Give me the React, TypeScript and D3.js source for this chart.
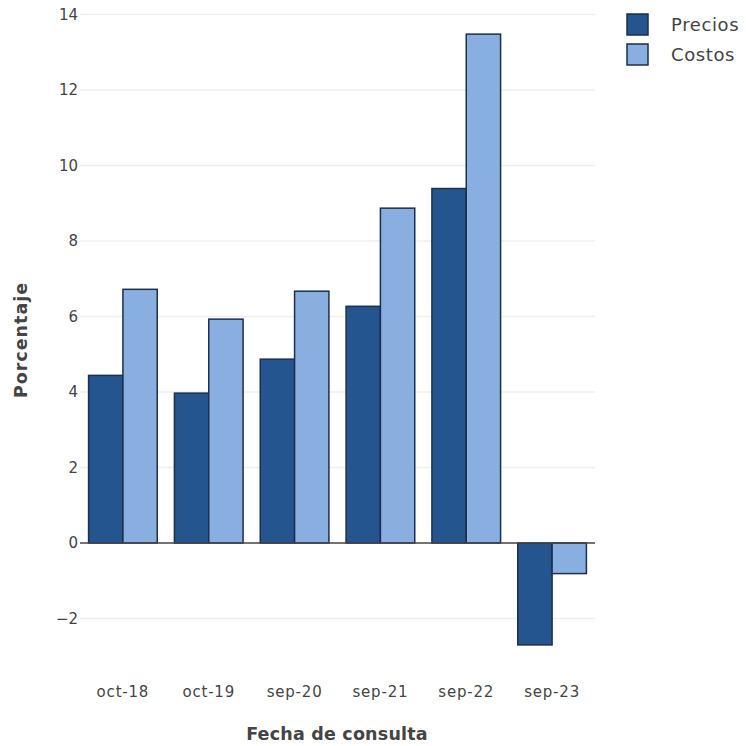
import React from "react";
import * as d3 from "d3";

const categories = ["oct-18", "oct-19", "sep-20", "sep-21", "sep-22", "sep-23"];
const precios = [4.44, 3.97, 4.87, 6.27, 9.39, -2.7];
const costos = [6.72, 5.93, 6.67, 8.87, 13.48, -0.81];
const seriesNames = ["Precios", "Costos"];
const yTicks = [-2, 0, 2, 4, 6, 8, 10, 12, 14];

const W = 746, H = 746;
const left = 80, right = 595;
const colors = ["#24558f", "#89aee0"];
const stroke = "#1b2f4e";
const font = "'DejaVu Sans', Verdana, sans-serif";

export default function App() {
  const x0 = d3.scaleBand<string>().domain(categories).range([left, right]).padding(0);
  const y = d3.scaleLinear().domain([-2, 14]).range([618.5, 14.5]);
  const sub = d3.scaleBand<string>().domain(seriesNames).range([0, x0.bandwidth() * 0.8]);
  const data = [precios, costos];
  return (
    <svg width={W} height={H} style={{ position: "absolute", left: 0, top: 0, background: "#fff" }} fontFamily={font}>
      {yTicks.map((t) => (
        <g key={t}>
          {t !== 0 && <line x1={left} x2={right} y1={y(t)} y2={y(t)} stroke="#eee" strokeWidth={1.5} />}
          <text x={78} y={y(t)} dy="0.36em" textAnchor="end" fontSize={15} fill="#444">
            {t < 0 ? "\u2212" + Math.abs(t) : t}
          </text>
        </g>
      ))}
      {categories.map((c, i) =>
        seriesNames.map((s, j) => {
          const v = data[j][i];
          const bx = (x0(c) as number) + x0.bandwidth() * 0.1 + (sub(s) as number);
          return (
            <rect key={c + s} x={bx} width={sub.bandwidth()} y={Math.min(y(v), y(0))} height={Math.abs(y(v) - y(0))}
              fill={colors[j]} stroke={stroke} strokeWidth={1.5} />
          );
        })
      )}
      <line x1={left} x2={right} y1={y(0)} y2={y(0)} stroke="#444" strokeWidth={1.5} />
      {categories.map((c) => (
        <text key={c} x={(x0(c) as number) + x0.bandwidth() / 2} y={691.5} dy="0.36em" textAnchor="middle" fontSize={15} letterSpacing={0.8} fill="#444">{c}</text>
      ))}
      <text x={337} y={734} dy="0.36em" textAnchor="middle" fontSize={17.5} fontWeight="bold" letterSpacing={0.2} fill="#444">Fecha de consulta</text>
      <text transform={`translate(21,340) rotate(-90)`} dy="0.36em" textAnchor="middle" fontSize={17.5} fontWeight="bold" letterSpacing={1} fill="#444">Porcentaje</text>
      {seriesNames.map((s, j) => (
        <g key={s}>
          <rect x={627} y={14 + j * 30} width={21} height={21} fill={colors[j]} stroke={stroke} strokeWidth={1.5} />
          <text x={671} y={24.5 + j * 30} dy="0.36em" fontSize={18} letterSpacing={0.6} fill="#444">{s}</text>
        </g>
      ))}
    </svg>
  );
}
